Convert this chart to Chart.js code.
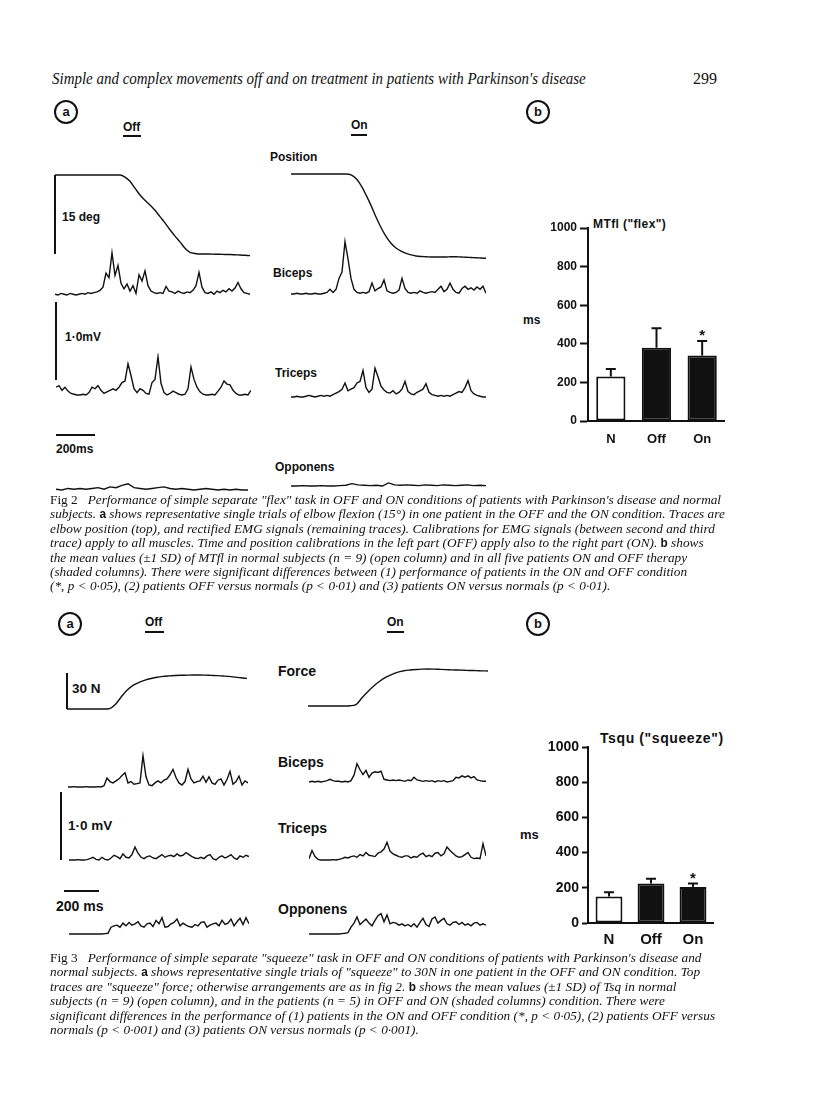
<!DOCTYPE html>
<html>
<head>
<meta charset="utf-8">
<script src="https://cdn.jsdelivr.net/npm/chart.js@4.4.0/dist/chart.umd.min.js"></script>
<style>
  body { margin:0; background:#fff; }
  #page { position:relative; width:816px; height:1110px; overflow:hidden; background:#fff; color:#111; }
  .lbl { position:absolute; font-family:"Liberation Sans", Arial, sans-serif; font-weight:bold; white-space:nowrap; line-height:16px; }
  .cap { position:absolute; font-family:"Liberation Serif", "Times New Roman", serif; font-style:italic; font-size:13.5px; white-space:nowrap; line-height:14px; transform-origin:0 50%; }
  .cap .up { font-style:normal; }
  .cap .sf { font-style:normal; font-family:"Liberation Sans", Arial, sans-serif; font-weight:bold; font-size:12px; }
  .rule { position:absolute; background:#111; }
  .circ { position:absolute; border:2px solid #111; border-radius:50%; box-sizing:border-box; text-align:center; font-family:"Liberation Sans", Arial, sans-serif; font-weight:bold; font-size:13px; line-height:19px; }
  .box { position:absolute; }
</style>
</head>
<body>
<div id="page"></div>
<script>
// ============================================================
// DATA
// ============================================================
// Fig 2a - elbow position (deg) and rectified EMG (mV), OFF / ON
const posOff  = [15,15,15,15,15,15,15,15,15,15,15,15,15,15,14.6,13.8,12.5,11.2,10.2,9.3,8.3,7.1,5.9,4.6,3.4,2.3,1.1,0.3,0.1,0,0,0,-0.05,-0.05,-0.1,-0.1,-0.15,-0.2,-0.25,-0.3];
const posOn   = [15.75,15.75,15.75,15.75,15.75,15.75,15.75,15.75,15.75,15.75,15.75,15.75,15.6,14.9,13.6,11.8,9.8,7.6,5.6,3.9,2.6,1.7,1.1,0.7,0.4,0.2,0.1,0.05,0,0,0,0,0.05,0.05,0,-0.05,-0.1,-0.15,-0.2,-0.25];
const bicOff2 = [0.01,0,0.02,0.01,0,0.02,0.01,0,0.01,0.02,0.01,0.03,0.02,0.03,0.04,0.06,0.1,0.28,0.22,0.54,0.25,0.38,0.15,0.08,0.14,0.05,0.12,0.02,0.26,0.18,0.31,0.12,0.05,0.03,0.02,0.03,0.02,0.11,0.05,0.04,0.02,0.05,0.03,0.02,0.04,0.03,0.06,0.12,0.29,0.1,0.03,0.02,0.04,0.01,0.05,0.03,0.06,0.04,0.08,0.05,0.09,0.16,0.08,0.03,0.02,0.01];
const bicOn2  = [0,0,0.01,0,0,0.01,0,0,0.01,0,0,0.01,0.02,0.06,0.02,0.06,0.2,0.28,0.67,0.45,0.2,0.06,0.02,0.01,0.02,0.01,0.03,0.14,0.04,0.07,0.09,0.18,0.04,0.02,0.01,0.02,0.05,0.2,0.07,0.02,0.01,0.02,0.01,0.04,0.02,0.01,0.02,0.03,0.02,0.06,0.1,0.03,0.06,0.14,0.06,0.02,0.01,0.07,0.1,0.06,0.08,0.05,0.09,0.06,0.1,0.01];
const triOff2 = [0.1,0.12,0.06,0.1,0.05,0.02,0.01,0,0,0.01,0,0.03,0.1,0.08,0.12,0.06,0.02,0.04,0.06,0.08,0.06,0.1,0.16,0.18,0.4,0.25,0.08,0.03,0.08,0.06,0.02,0.01,0.16,0.2,0.49,0.15,0.03,0,0.02,0.05,0.03,0.01,0,0.01,0.08,0.36,0.2,0.1,0.04,0.01,0,0,0.01,0,0.05,0.1,0.18,0.14,0.13,0.06,0.02,0,0,0.01,0,0.06];
const triOn2  = [0,0,0.01,0,0,0.01,0.02,0.01,0,0.01,0.02,0.01,0.02,0.01,0.03,0.05,0.07,0.1,0.18,0.08,0.1,0.12,0.18,0.2,0.34,0.12,0.06,0.1,0.37,0.26,0.14,0.09,0.06,0.05,0.08,0.04,0.06,0.1,0.2,0.07,0.04,0.03,0.06,0.08,0.1,0.17,0.06,0.03,0.02,0.01,0.02,0.01,0.02,0.01,0.03,0.05,0.07,0.06,0.12,0.21,0.08,0.04,0.02,0.01,0,0];
const oppOff2 = [0.01,0,0.02,0.01,0.02,0.01,0.02,0.03,0.01,0.04,0.03,0.06,0.08,0.03,0.02,0.01,0.02,0.03,0.04,0.02,0.01,0.02,0.01,0,0.01,0.02,0.01,0,0.01,0,0.01,0,0];
const oppOn2  = [0,0,0.005,0,0,0.005,0,0,0.005,0.01,0.03,0.015,0.01,0.005,0.01,0,0.04,0.015,0.01,0.015,0.01,0.005,0.015,0.01,0.005,0.015,0.01,0.005,0.01,0.015,0.005,0.01,0.005];

// Fig 3a - squeeze force (N) and rectified EMG (mV), OFF / ON
const forceOff = [0,0,0,0,0,0,0,0.2,3.5,9.8,15.6,19.7,22.2,24,25.4,26.5,27.2,27.6,27.9,28.1,28.2,28.3,28.3,28.2,28,27.8,27.5,27.2,26.6,26,25.5];
const forceOn  = [0,0,0,0,0,0,0,0.2,1.2,6.8,12,16.8,20.8,24,26.4,28.2,29.4,30,30.4,30.7,30.8,30.7,30.5,30.3,30.1,30,29.8,29.6,29.5,29.3,29.2];
const bicOff3 = [0,0,0.005,0,0,0,0.005,0,0,0,0.005,0,0.02,0.13,0.08,0.06,0.09,0.12,0.17,0.21,0.06,0.08,0.04,0.05,0.06,0.46,0.15,0.03,0.02,0.06,0.09,0.06,0.1,0.12,0.18,0.26,0.14,0.06,0.03,0.08,0.26,0.12,0.06,0.08,0.09,0.16,0.07,0.15,0.06,0.04,0.1,0.12,0.03,0.11,0.23,0.04,0.08,0.16,0.03,0.09,0.06];
const bicOn3  = [0,0.01,0,0.01,0,0.01,0.02,0.04,0.02,0.01,0.01,0,0.01,0,0.02,0.1,0.27,0.18,0.11,0.17,0.07,0.13,0.15,0.14,0.16,0.04,0.03,0.02,0.03,0.02,0.03,0.02,0.01,0.03,0.02,0.07,0.03,0.02,0.01,0.02,0.01,0.02,0,0.02,0.01,0.02,0,0.01,0.02,0.07,0.06,0.09,0.07,0.09,0.06,0.08,0.03,0.02,0.01,0.01];
const triOff3 = [0,0,0,0.005,0,0,0.005,0.02,0.04,0.01,0,0.04,0.01,0,0.03,0.07,0.05,0.02,0.09,0.04,0.03,0.08,0.19,0.1,0.04,0.02,0.05,0.06,0.03,0.02,0.05,0.08,0.04,0.06,0.07,0.05,0.09,0.06,0.07,0.11,0.08,0.05,0.03,0.02,0.04,0.02,0.06,0.08,0.02,0,0.04,0.06,0.03,0.05,0.08,0.03,0.01,0.06,0.04,0.07,0.05];
const triOn3  = [0.02,0.14,0.05,0.01,0,0,0,0,0.005,0,0.01,0.02,0.04,0.03,0.05,0.06,0.04,0.08,0.06,0.11,0.07,0.06,0.05,0.1,0.12,0.16,0.26,0.13,0.09,0.07,0.05,0.04,0.06,0.06,0.03,0.05,0.04,0.08,0.1,0.05,0.07,0.05,0.1,0.11,0.06,0.09,0.19,0.14,0.1,0.06,0.04,0.05,0.08,0.11,0.04,0.02,0.03,0.02,0.24,0.06];
const oppOff3 = [0,0,0,0,0,0,0,0,0,0,0,0,0.005,0.01,0.1,0.12,0.13,0.1,0.16,0.12,0.17,0.13,0.15,0.18,0.12,0.1,0.15,0.16,0.11,0.2,0.15,0.24,0.1,0.11,0.15,0.17,0.22,0.12,0.16,0.13,0.11,0.1,0.14,0.12,0.17,0.18,0.1,0.13,0.15,0.16,0.12,0.2,0.14,0.16,0.22,0.12,0.18,0.23,0.14,0.24,0.15];
const oppOn3  = [0,0,0,0,0,0,0,0,0,0,0,0.005,0.01,0.02,0.1,0.16,0.25,0.14,0.18,0.22,0.16,0.12,0.2,0.27,0.3,0.18,0.28,0.15,0.17,0.16,0.13,0.15,0.12,0.14,0.11,0.15,0.1,0.17,0.23,0.14,0.11,0.22,0.25,0.16,0.2,0.23,0.15,0.13,0.17,0.18,0.14,0.17,0.13,0.15,0.12,0.16,0.17,0.13,0.15,0.13];

// Fig 2b / 3b - mean (ms) +1 SD
const groups    = ['N', 'Off', 'On'];
const mtflMean  = [230, 380, 340];
const mtflSD    = [40, 100, 75];
const tsquMean  = [150, 225, 205];
const tsquSD    = [25, 27, 20];
const signif    = [false, false, true];
const msTicks   = [0, 200, 400, 600, 800, 1000];

const cap2 = [
  '<span class="up">Fig 2</span>&nbsp;&nbsp; Performance of simple separate "flex" task in OFF and ON conditions of patients with Parkinson\'s disease and normal',
  'subjects. <span class="sf">a</span> shows representative single trials of elbow flexion (15°) in one patient in the OFF and the ON condition. Traces are',
  'elbow position (top), and rectified EMG signals (remaining traces). Calibrations for EMG signals (between second and third',
  'trace) apply to all muscles. Time and position calibrations in the left part (OFF) apply also to the right part (ON). <span class="sf">b</span> shows',
  'the mean values (±1 SD) of MTfl in normal subjects (n = 9) (open column) and in all five patients ON and OFF therapy',
  '(shaded columns). There were significant differences between (1) performance of patients in the ON and OFF condition',
  '(*, p &lt; 0·05), (2) patients OFF versus normals (p &lt; 0·01) and (3) patients ON versus normals (p &lt; 0·01).'
];
const cap3 = [
  '<span class="up">Fig 3</span>&nbsp;&nbsp; Performance of simple separate "squeeze" task in OFF and ON conditions of patients with Parkinson\'s disease and',
  'normal subjects. <span class="sf">a</span> shows representative single trials of "squeeze" to 30N in one patient in the OFF and ON condition. Top',
  'traces are "squeeze" force; otherwise arrangements are as in fig 2. <span class="sf">b</span> shows the mean values (±1 SD) of Tsq in normal',
  'subjects (n = 9) (open column), and in the patients (n = 5) in OFF and ON (shaded columns) condition. There were',
  'significant differences in the performance of (1) patients in the ON and OFF condition (*, p &lt; 0·05), (2) patients OFF versus',
  'normals (p &lt; 0·001) and (3) patients ON versus normals (p &lt; 0·001).'
];

// ============================================================
// HELPERS
// ============================================================
Chart.defaults.animation = false;
Chart.defaults.font.family = '"Liberation Sans", Arial, sans-serif';
const INK = '#111';
const page = document.getElementById('page');

function el(cls, css, html) {
  const d = document.createElement('div');
  d.className = cls;
  Object.assign(d.style, css);
  if (html !== undefined) d.innerHTML = html;
  page.appendChild(d);
  return d;
}
function label(text, x, y, size, ls) {
  return el('lbl', { left: x + 'px', top: (y - 8) + 'px', fontSize: (size || 12) + 'px', letterSpacing: (ls || 0) + 'px' }, text);
}
function hbar(x1, x2, y, w) { el('rule', { left: x1 + 'px', top: (y - (w || 2) / 2) + 'px', width: (x2 - x1) + 'px', height: (w || 2) + 'px' }); }
function vbar(x, y1, y2, w) { el('rule', { left: (x - (w || 2) / 2) + 'px', top: y1 + 'px', width: (w || 2) + 'px', height: (y2 - y1) + 'px' }); }
function circle(ch, cx, cy) { el('circ', { left: (cx - 12) + 'px', top: (cy - 12) + 'px', width: '24px', height: '24px' }, ch); }

// one trace = one small line chart; base = pixel row of value 0, k = px per unit
const PAD = 6;
function trace(values, left, width, base, k, head, smooth) {
  const box = el('box', { left: left + 'px', top: (base - head) + 'px', width: width + 'px', height: (head + PAD) + 'px' });
  const c = document.createElement('canvas');
  box.appendChild(c);
  new Chart(c, {
    type: 'line',
    data: {
      labels: values.map((_, i) => i),
      datasets: [{ data: values, borderColor: INK, borderWidth: 1.4, pointRadius: 0, tension: 0,
                   cubicInterpolationMode: smooth ? 'monotone' : 'default', clip: false }]
    },
    options: {
      responsive: true, maintainAspectRatio: false, events: [],
      layout: { padding: 0 },
      plugins: { legend: { display: false }, tooltip: { enabled: false } },
      scales: {
        x: { display: false, offset: false },
        y: { display: false, min: -PAD / k, max: head / k }
      }
    }
  });
}

const errorBars = {
  id: 'errorBars',
  afterDatasetsDraw(chart) {
    const { ctx, scales: { y } } = chart;
    const ds = chart.data.datasets[0];
    ctx.save();
    ctx.strokeStyle = INK; ctx.fillStyle = INK; ctx.lineWidth = 2;
    chart.getDatasetMeta(0).data.forEach((bar, i) => {
      const top = y.getPixelForValue(ds.data[i] + ds.sd[i]);
      ctx.beginPath();
      ctx.moveTo(bar.x, bar.y); ctx.lineTo(bar.x, top);
      ctx.moveTo(bar.x - 5, top); ctx.lineTo(bar.x + 5, top);
      ctx.stroke();
      if (ds.star[i]) {
        ctx.font = 'bold 15px "Liberation Sans", Arial';
        ctx.textAlign = 'center'; ctx.textBaseline = 'middle';
        ctx.fillText('*', bar.x, top - 5);
      }
    });
    ctx.restore();
  }
};

function barChart(means, sds, left, top, width, height, padTop, yW, xH, fs, xPad) {
  const box = el('box', { left: left + 'px', top: top + 'px', width: width + 'px', height: height + 'px' });
  const c = document.createElement('canvas');
  box.appendChild(c);
  new Chart(c, {
    type: 'bar',
    data: {
      labels: groups,
      datasets: [{ data: means, sd: sds, star: signif,
                   backgroundColor: ['#fff', INK, INK], borderColor: INK, borderWidth: 2, borderSkipped: false,
                   barPercentage: 0.64, categoryPercentage: 1 }]
    },
    options: {
      responsive: true, maintainAspectRatio: false, events: [],
      layout: { padding: { top: padTop, right: 0, left: 0, bottom: 0 } },
      plugins: { legend: { display: false }, tooltip: { enabled: false } },
      scales: {
        y: {
          min: 0, max: 1000, afterFit: s => { s.width = yW; },
          afterBuildTicks: s => { s.ticks = msTicks.map(v => ({ value: v })); },
          ticks: { color: INK, font: { size: fs, weight: 'bold' }, padding: 3, callback: v => String(v) },
          grid: { drawOnChartArea: false, drawTicks: true, tickLength: fs > 12 ? 6 : 8, tickColor: INK, tickWidth: 2 },
          border: { display: true, color: INK, width: 2 }
        },
        x: {
          afterFit: s => { s.height = xH; },
          ticks: { color: INK, font: { size: fs + 1, weight: 'bold' }, padding: xPad },
          grid: { display: false },
          border: { display: true, color: INK, width: 2 }
        }
      }
    },
    plugins: [errorBars]
  });
}

function caption(lines, x, y0, step) {
  return lines.map((h, i) => el('cap', { left: x + 'px', top: (y0 + i * step - 7) + 'px' }, h));
}

// ============================================================
// PAGE HEADER
// ============================================================
const head = el('cap', { left: '52px', top: '71px', fontSize: '16px', lineHeight: '16px' },
  'Simple and complex movements off and on treatment in patients with Parkinson\'s disease');
head.style.transform = `scaleX(${534 / head.offsetWidth})`;
el('cap', { left: '693px', top: '71px', fontSize: '16px', lineHeight: '16px', fontStyle: 'normal' }, '299');

// ============================================================
// FIG 2
// ============================================================
circle('a', 66, 112); circle('b', 538, 112);
label('Off', 123, 127); hbar(123, 141, 136);
label('On', 351, 125); hbar(351, 367, 135);
label('Position', 270, 157);
label('15 deg', 62, 217);
label('Biceps', 273, 273);
label('1·0mV', 65, 337);
label('Triceps', 275, 373);
label('200ms', 56, 449);
label('Opponens', 275, 467);
label('MTfl ("flex")', 593, 224, 12, 0.4);
label('ms', 523, 320, 12);
vbar(55, 175, 254); vbar(56, 302, 380); hbar(56, 95, 435);

trace(posOff, 55, 195, 254, 79 / 15, 82, true);
trace(posOn, 291, 195, 257, 79 / 15, 86, true);
trace(bicOff2, 55, 195, 295, 78, 48);
trace(bicOn2, 291, 195, 294, 78, 58);
trace(triOff2, 56, 195, 394.5, 78, 42);
trace(triOn2, 291, 195, 396.5, 78, 34);
trace(oppOff2, 56, 192, 489.5, 78, 10);
trace(oppOn2, 291, 195, 486, 78, 10);

barChart(mtflMean, mtflSD, 520, 214, 205, 244, 14, 68, 37, 12, 3);

const c2 = caption(cap2, 50, 500, 14.4);
const k = 671 / c2[0].offsetWidth;
c2.forEach(d => d.style.transform = `scaleX(${k})`);

// ============================================================
// FIG 3
// ============================================================
circle('a', 70, 624); circle('b', 538, 624);
label('Off', 145, 622); hbar(145, 164, 632);
label('On', 387, 622); hbar(387, 404, 632);
label('Force', 278, 671, 14);
label('30 N', 72, 689, 13.5);
label('Biceps', 278, 762, 14);
label('1·0 mV', 68, 826, 13.5);
label('Triceps', 278, 828, 14);
label('200 ms', 56, 906, 14);
label('Opponens', 278, 909, 14);
label('Tsqu ("squeeze")', 600, 738, 14, 0.6);
label('ms', 520, 835, 13);
vbar(67, 673, 709); vbar(61, 792, 860); hbar(64, 99, 891);

trace(forceOff, 67, 180, 708.5, 1.2, 40, true);
trace(forceOn, 308, 180, 706, 1.2, 42, true);
trace(bicOff3, 68, 180, 787, 68, 36);
trace(bicOn3, 309, 177, 782, 68, 24);
trace(triOff3, 69, 180, 859.5, 68, 18);
trace(triOn3, 309, 177, 859.5, 68, 22);
trace(oppOff3, 69, 180, 934, 68, 22);
trace(oppOn3, 309, 177, 934, 68, 26);

barChart(tsquMean, tsquSD, 520, 733, 194, 222, 14, 68, 32, 14, 0);

const c3 = caption(cap3, 50, 958, 14.4);
c3.forEach(d => d.style.transform = `scaleX(${k})`);
</script>
</body>
</html>
